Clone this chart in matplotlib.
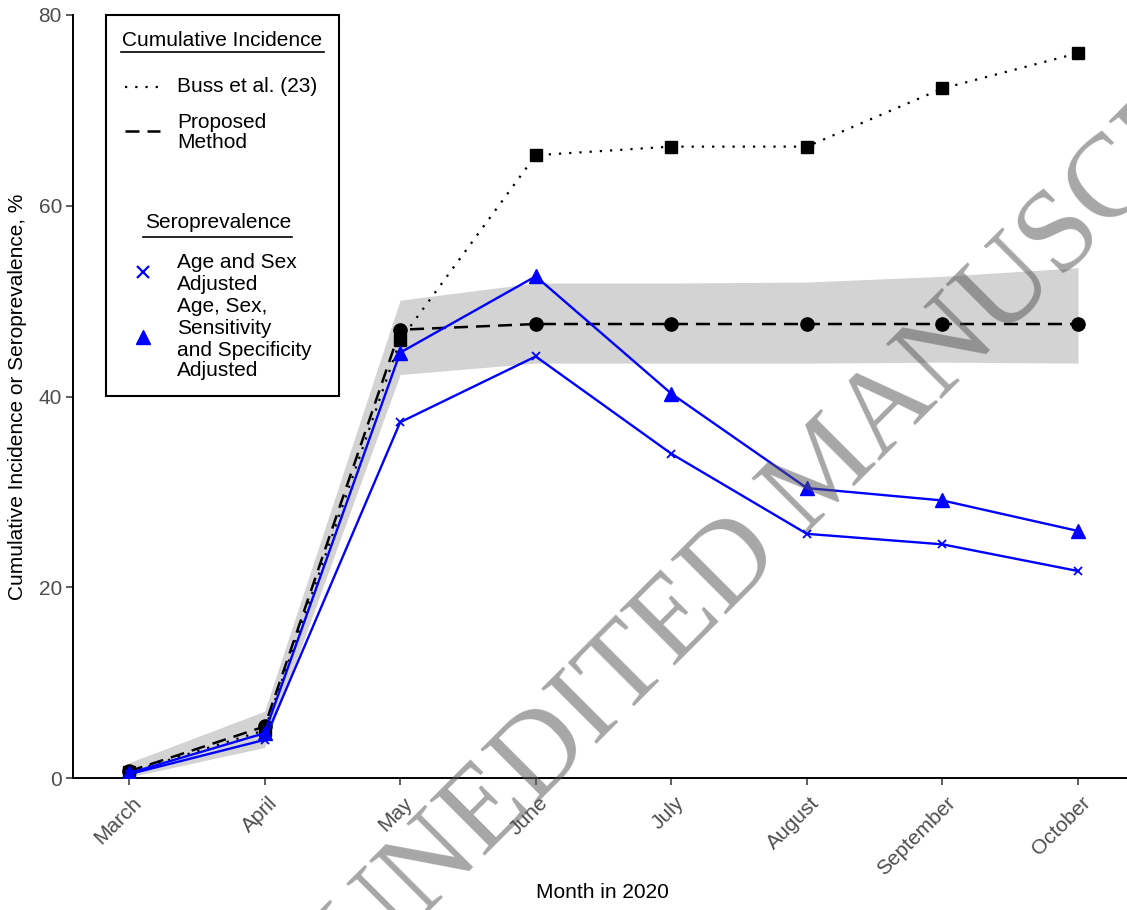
import matplotlib
matplotlib.use('Agg')
import matplotlib.pyplot as plt
from matplotlib.lines import Line2D
from matplotlib.patches import Rectangle
import matplotlib.transforms as mtransforms

# ---------------- data ----------------
months = ['March', 'April', 'May', 'June', 'July', 'August', 'September', 'October']
buss = [0.6, 5.0, 45.9, 65.3, 66.2, 66.2, 72.3, 76.0]
proposed = [0.7, 5.4, 47.0, 47.6, 47.6, 47.6, 47.6, 47.6]
band_lo = [0.1, 3.2, 42.3, 43.5, 43.5, 43.5, 43.6, 43.5]
band_hi = [1.6, 7.0, 50.1, 51.9, 51.9, 52.0, 52.6, 53.5]
age_sex = [0.4, 4.0, 37.3, 44.2, 34.0, 25.6, 24.5, 21.7]
age_sex_ss = [0.5, 4.7, 44.6, 52.6, 40.3, 30.4, 29.1, 25.9]
yticks = [0, 20, 40, 60, 80]

W, H = 1127, 910
plt.rcParams['font.family'] = ['Liberation Sans', 'DejaVu Sans']
fig = plt.figure(figsize=(W / 100, H / 100), dpi=100)

def fx(px):
    return px / W

def fy(py):
    return (H - py) / H

ax = fig.add_axes([fx(73), fy(778), fx(1127) - fx(73), fy(15) - fy(778)])
x = list(range(len(months)))

ax.fill_between(x, band_lo, band_hi, color='#D3D3D3', linewidth=0, zorder=1)
ax.plot(x, buss, color='black', lw=1.6, linestyle=(0, (1, 3.6)), zorder=3)
ax.plot(x, buss, linestyle='none', marker='s', ms=8, color='black', zorder=4)
ax.plot(x, proposed, color='black', lw=1.8, linestyle=(0, (5.6, 3.2)), zorder=3)
ax.plot(x, proposed, linestyle='none', marker='o', ms=9.5, color='black', zorder=4)
ax.plot(x, age_sex, color='#0000FF', lw=1.7, marker='x', ms=6, mew=1.3, zorder=5)
ax.plot(x, age_sex_ss, color='#0000FF', lw=1.7, marker='^', ms=9.5, zorder=5)

ax.set_xlim(-0.413, 7.361)
ax.set_ylim(0, 80)
ax.set_xticks(x)
ax.set_xticklabels(months, rotation=45, ha='right', va='top', rotation_mode='anchor')
ax.set_yticks(yticks)
ax.set_yticklabels([str(v) for v in yticks])
for s in ['top', 'right']:
    ax.spines[s].set_visible(False)
for s in ['left', 'bottom']:
    ax.spines[s].set_linewidth(1.4)
    ax.spines[s].set_color('black')
ax.tick_params(axis='both', length=5, width=1.1, color='#333333',
               labelcolor='#4D4D4D', labelsize=15)
ax.tick_params(axis='y', pad=3)
ax.tick_params(axis='x', pad=6)
offset = mtransforms.ScaledTranslation(3 / 100, 0, fig.dpi_scale_trans)
for lab in ax.get_xticklabels():
    lab.set_transform(lab.get_transform() + offset)

fig.text(fx(18), fy(397), 'Cumulative Incidence or Seroprevalence, %', rotation=90,
         ha='center', va='center', fontsize=15, color='black')
fig.text(fx(602), fy(893), 'Month in 2020', ha='center', va='center', fontsize=15, color='black')

# ---------------- legend ----------------
fig.patches.append(Rectangle((fx(106), fy(396)), fx(339) - fx(106), fy(15) - fy(396),
                             transform=fig.transFigure, fill=False, edgecolor='black',
                             linewidth=1.5, zorder=10))

def ftext(px, py, s, **kw):
    return fig.text(fx(px), fy(py), s, fontsize=15, color='black', va='center', zorder=11, **kw)

ftext(222, 41, 'Cumulative Incidence', ha='center')
fig.lines.append(Line2D([fx(121), fx(324)], [fy(52), fy(52)], transform=fig.transFigure,
                        color='black', lw=1.2, zorder=11))
fig.lines.append(Line2D([fx(125), fx(161)], [fy(87), fy(87)], transform=fig.transFigure,
                        color='black', lw=1.6, linestyle=(0, (1, 3.6)), zorder=11))
ftext(177, 87, 'Buss et al. (23)', ha='left')
fig.lines.append(Line2D([fx(125), fx(160)], [fy(131), fy(131)], transform=fig.transFigure,
                        color='black', lw=1.8, linestyle=(0, (5.6, 3.2)), zorder=11))
ftext(177, 122, 'Proposed', ha='left')
ftext(177, 143, 'Method', ha='left')

ftext(218, 223, 'Seroprevalence', ha='center')
fig.lines.append(Line2D([fx(143), fx(292)], [fy(237), fy(237)], transform=fig.transFigure,
                        color='black', lw=1.2, zorder=11))
fig.lines.append(Line2D([fx(143)], [fy(272)], transform=fig.transFigure, color='#0000FF',
                        marker='x', ms=8, mew=1.6, linestyle='none', zorder=11))
ftext(177, 263, 'Age and Sex', ha='left')
ftext(177, 284, 'Adjusted', ha='left')
fig.lines.append(Line2D([fx(143)], [fy(337)], transform=fig.transFigure, color='#0000FF',
                        marker='^', ms=10, linestyle='none', zorder=11))
ftext(177, 307, 'Age, Sex,', ha='left')
ftext(177, 328, 'Sensitivity', ha='left')
ftext(177, 350, 'and Specificity', ha='left')
ftext(177, 371, 'Adjusted', ha='left')

# ---------------- watermark ----------------
fig.text(fx(362), fy(978), 'UNEDITED MANUSCRIPT', rotation=45, rotation_mode='anchor',
         ha='left', va='baseline', fontsize=85, family=['Liberation Serif', 'DejaVu Serif'],
         color='#555555', alpha=0.52, zorder=20)

fig.savefig('out.png', dpi=100)
